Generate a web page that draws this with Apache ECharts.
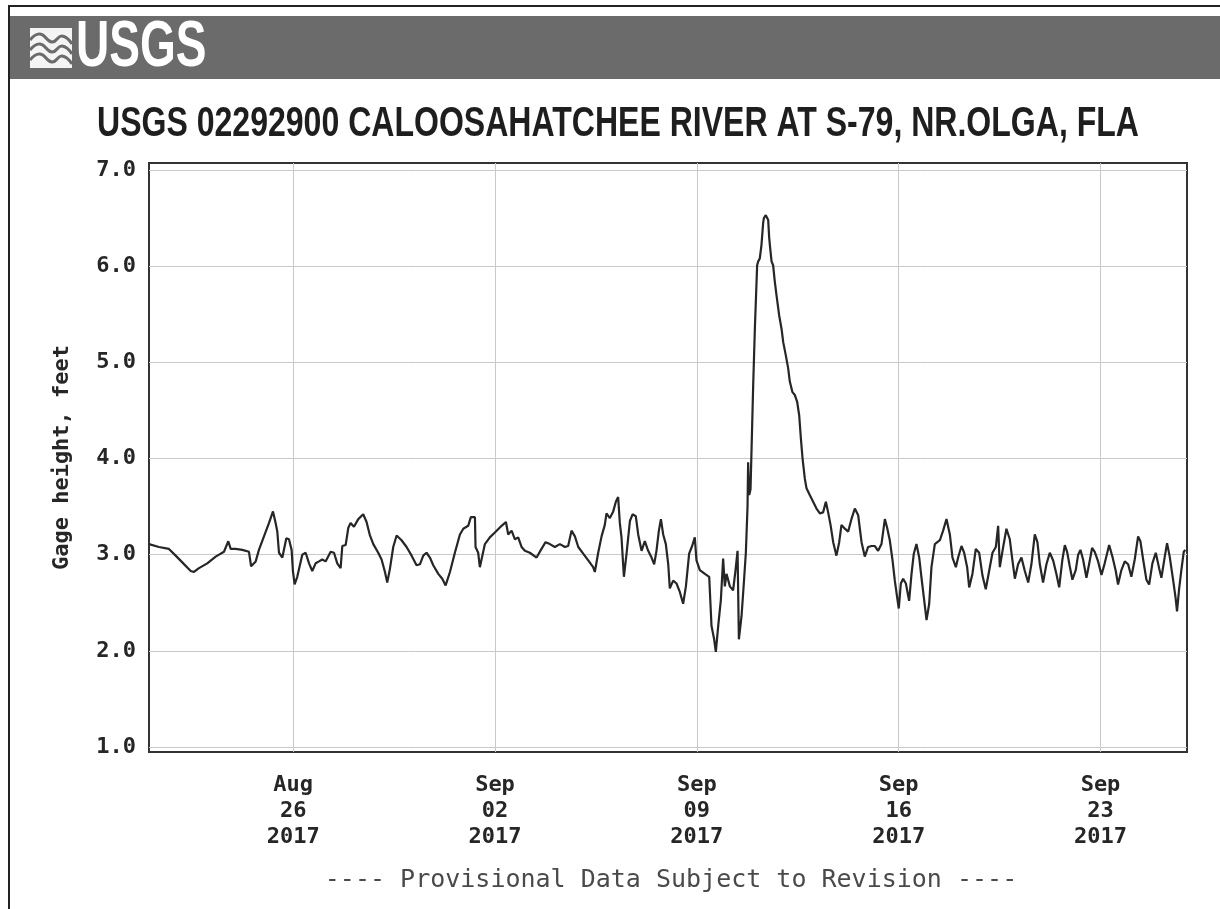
<!DOCTYPE html>
<html>
<head>
<meta charset="utf-8">
<script src="https://cdn.jsdelivr.net/npm/echarts@6/dist/echarts.min.js"></script>
<style>
  html, body { margin: 0; padding: 0; background: #fff; }
  #chart { width: 1220px; height: 909px; }
</style>
</head>
<body>
<div id="chart"></div>
<script>
const MONO = '"DejaVu Sans Mono", "Liberation Mono", monospace';
const INK = "#262626";
const GRIDC = "#c9c9c9";

// hours since 2017-08-21 00:00 and gage height (ft)
const hours = [
  0, 8.3, 16.6, 18, 22.2, 27.7, 34.7, 37.4, 41.6, 48.5,
  55.5, 62.4, 66, 68, 72.1, 77.7, 83.2, 85, 86.5, 88.8,
  91.5, 95.7, 99.9, 103.2, 105.4, 106.8, 108.2, 111, 112.3, 114.3,
  116.5, 118.7, 119.8, 121.2, 123.4, 125.4, 127.6, 130.4, 133.2, 135.9,
  138.7, 141.5, 144.2, 147, 151.2, 154, 156.7, 159.5, 160.9, 163.7,
  165.9, 167.8, 170.6,
  174.2, 178.3, 181.1, 183.9, 186.7, 190.8, 193.6, 196.4, 198.3, 200.5,
  203.3, 206.1, 210.2, 214.4, 218.6, 222.7, 225.5, 228.3, 231, 233.8,
  236.6, 240.8, 244.1, 246.9, 250.5, 254.6, 258.8, 261.6, 265.7, 267.9,
  271.3, 271.8, 274, 275.4, 276.8, 279.6, 283.7, 287.9, 293.5, 297.1,
  299, 301.8, 304.6, 307.3, 310.1, 312.9, 317, 322.6, 326.7, 330.1,
  333.7, 337.8,
  342, 346.2, 348.9, 351.7, 354.5, 357.3, 361.4, 365.6, 369.7, 371.1,
  373.9, 376.7, 379.4, 380.8, 383.6, 386.4, 388.6, 390.5, 391.9, 393.3,
  395.3, 397.5, 400.3, 402.5, 405.2, 407.2, 410, 412.7, 415.5, 418.3,
  420.5, 422.4, 424.4, 426.1, 428, 430.2, 432.2, 433.5, 436.3, 439.1,
  441.9, 444.6, 446.9, 449.6, 452.1, 454.3, 455.7, 458.5, 462.7, 466.3,
  468.2, 470.4, 471.8, 473.8, 476, 477.9, 479.3, 480.7, 483.5, 486.2,
  488.2, 489.9, 491, 493.2, 495.1, 496.8,
  498.2, 498.7, 499.6, 500.7, 502.3, 502.9, 504.3, 506.2, 507.1, 508.4,
  509.8, 511.2, 511.8, 513.4, 515.4, 516.2, 516.8, 518.2, 519.5, 520.9,
  522.3, 524.5, 526.5, 527.9, 530.1, 532, 533.4, 535.6, 537.6, 539.5,
  541.2, 542.6, 544, 545.9, 547.3, 550, 552.8, 555.6, 558.4, 561.1,
  563.4, 565.3, 567.3, 569.5, 572.2, 574.5, 576.4, 579.2, 582, 584.7,
  587.5, 590.3, 593.1, 595.8, 598.6,
  601.4, 604.2, 606.9, 609.7, 612.5, 614.4, 616.6, 618.9, 620.8, 622.7,
  624.1, 625.8, 627.7, 630, 632.7, 634.7, 636.6, 638.8, 641.1, 643,
  644.9, 647.2, 649.4, 651.3, 654.1, 658.3, 661, 663.8, 666.6, 668.8,
  671.6, 673.5, 676.3, 678.5, 681, 682.7, 685.4, 688.2, 691, 693.8,
  696.5, 699.3, 702.1, 704.9, 706.8, 708.2, 711, 713.7, 716.5, 718.7,
  720.7, 723.4, 726.2, 729, 731.8, 734.5, 737.3, 739.5, 741.5, 744.2,
  747, 749.8, 752.6, 755.3, 757.6,
  760.3, 762.3, 764.2, 766.4, 768.6, 771.4, 773.4, 775.3, 777.5, 780.3,
  782.5, 785, 787.2, 790, 792.8, 795.5, 799.2, 801.9, 804.7, 806.6,
  809.4, 812.2, 815, 817.7, 820.5, 823.3, 825.2, 827.5, 830.2, 832.5,
  835.2, 838, 840.8, 842.7, 845.5, 847.4, 849.6, 852.4, 854.5, 855.7,
  857.4, 859.3, 861.3, 862.6
];
const gage = [
  3.11, 3.08, 3.06, 3.05, 2.99, 2.92, 2.83, 2.82, 2.86, 2.91,
  2.98, 3.03, 3.14, 3.06, 3.06, 3.05, 3.03, 2.88, 2.86, 2.93,
  3.05, 3.19, 3.33, 3.45, 3.33, 3.24, 3.02, 2.97, 2.98, 3.17,
  3.16, 3.05, 2.83, 2.69, 2.77, 2.88, 3.00, 3.02, 2.91, 2.83,
  2.91, 2.93, 2.95, 2.93, 3.03, 3.02, 2.91, 2.86, 3.09, 3.10,
  3.28, 3.33, 3.29,
  3.37, 3.42, 3.34, 3.20, 3.11, 3.02, 2.95, 2.82, 2.71, 2.85,
  3.08, 3.20, 3.15, 3.08, 2.99, 2.89, 2.90, 2.99, 3.02, 2.97,
  2.89, 2.80, 2.75, 2.68, 2.82, 3.02, 3.21, 3.27, 3.30, 3.39,
  3.39, 3.08, 3.02, 2.87, 2.95, 3.11, 3.18, 3.23, 3.30, 3.34,
  3.21, 3.25, 3.16, 3.18, 3.08, 3.04, 3.02, 2.97, 3.06, 3.13,
  3.11, 3.08,
  3.11, 3.08, 3.09, 3.25, 3.19, 3.08, 3.01, 2.94, 2.87, 2.82,
  3.02, 3.19, 3.31, 3.43, 3.38, 3.45, 3.55, 3.60, 3.33, 3.18,
  2.77, 3.01, 3.35, 3.42, 3.40, 3.21, 3.04, 3.14, 3.04, 2.97,
  2.90, 3.04, 3.25, 3.37, 3.21, 3.11, 2.90, 2.65, 2.73, 2.70,
  2.61, 2.49, 2.67, 3.01, 3.09, 3.18, 2.94, 2.84, 2.80, 2.77,
  2.26, 2.12, 1.99, 2.26, 2.53, 2.96, 2.67, 2.80, 2.67, 2.63,
  2.84, 3.04, 2.12, 2.36, 2.70, 3.02,
  3.50, 3.96, 3.62, 3.68, 3.66, 4.76, 5.35, 6.01, 6.05, 6.08,
  6.22, 6.45, 6.50, 6.53, 6.48, 6.30, 6.22, 6.05, 6.01, 5.84,
  5.70, 5.49, 5.35, 5.21, 5.07, 4.94, 4.80, 4.69, 4.66, 4.59,
  4.45, 4.21, 4.00, 3.79, 3.69, 3.62, 3.55, 3.48, 3.43, 3.44,
  3.55, 3.44, 3.31, 3.13, 2.99, 3.13, 3.31, 3.27, 3.24, 3.37,
  3.48, 3.41, 3.13, 2.98, 3.08,
  3.09, 3.09, 3.04, 3.11, 3.37, 3.28, 3.15, 2.94, 2.73, 2.56,
  2.44, 2.70, 2.75, 2.70, 2.52, 2.80, 3.01, 3.11, 2.97, 2.76,
  2.56, 2.32, 2.49, 2.87, 3.11, 3.15, 3.25, 3.37, 3.21, 2.97,
  2.87, 2.97, 3.09, 3.02, 2.87, 2.66, 2.80, 3.06, 3.02, 2.78,
  2.64, 2.83, 3.02, 3.08, 3.30, 2.87, 3.08, 3.27, 3.16, 2.94,
  2.75, 2.90, 2.97, 2.83, 2.71, 2.90, 3.21, 3.13, 2.90, 2.71,
  2.90, 3.02, 2.94, 2.80, 2.66,
  2.95, 3.10, 3.03, 2.88, 2.74, 2.84, 3.00, 3.05, 2.95, 2.76,
  2.90, 3.07, 3.03, 2.93, 2.79, 2.91, 3.10, 2.98, 2.83, 2.69,
  2.84, 2.93, 2.90, 2.77, 2.95, 3.19, 3.14, 2.95, 2.74, 2.69,
  2.91, 3.02, 2.86, 2.76, 2.98, 3.12, 2.98, 2.74, 2.55, 2.41,
  2.64, 2.84, 3.03, 3.05
];

const yTicks = [1, 2, 3, 4, 5, 6, 7];
const xTicks = [120, 288, 456, 624, 792]; // Aug 26, Sep 02, 09, 16, 23 (hours)
const MONTHS = ["Jan", "Feb", "Mar", "Apr", "May", "Jun", "Jul", "Aug", "Sep", "Oct", "Nov", "Dec"];
const SPAN_HOURS = 864; // Aug 21 00:00 -> Sep 26 00:00

const pad = (n) => (n < 10 ? "0" + n : "" + n);
const dateLabel = (h) => {
  const d = new Date(2017, 7, 21 + Math.round(h / 24));
  return MONTHS[d.getMonth()] + "\n" + pad(d.getDate()) + "\n" + d.getFullYear();
};

const chart = echarts.init(document.getElementById("chart"), null, { renderer: "canvas" });
chart.setOption({
  backgroundColor: "#fff",
  animation: false,
  grid: {
    left: 149, right: 33, top: 163, bottom: 157,
    show: true, borderColor: "#333", borderWidth: 2, backgroundColor: "transparent",
  },
  xAxis: {
    type: "value",
    min: 0,
    max: SPAN_HOURS,
    axisLine: { show: false },
    axisTick: { show: false, customValues: xTicks },
    axisLabel: {
      customValues: xTicks,
      color: INK,
      fontFamily: MONO,
      fontWeight: "bold",
      fontSize: 22,
      lineHeight: 26,
      margin: 20,
      formatter: dateLabel,
    },
    splitLine: { show: true, lineStyle: { color: GRIDC, width: 1 } },
  },
  yAxis: {
    type: "value",
    min: 0.948,
    max: 7.073,
    name: "Gage height, feet",
    nameLocation: "middle",
    nameGap: 76,
    nameTextStyle: { color: INK, fontFamily: MONO, fontWeight: "bold", fontSize: 22 },
    axisLine: { show: false },
    axisTick: { show: false, customValues: yTicks },
    axisLabel: {
      customValues: yTicks,
      color: INK,
      fontFamily: MONO,
      fontWeight: "bold",
      fontSize: 22,
      margin: 13,
      formatter: (v) => v.toFixed(1),
    },
    splitLine: { show: true, lineStyle: { color: GRIDC, width: 1 } },
  },
  series: [
    {
      type: "line",
      data: hours.map((h, i) => [h, gage[i]]),
      showSymbol: false,
      lineStyle: { color: "#262626", width: 2.2 },
      silent: true,
    },
  ],
  graphic: [
    // page frame
    { type: "polyline", shape: { points: [[9, 909], [9, 6], [1220, 6]] }, style: { stroke: "#222", lineWidth: 2, fill: null } },
    // banner
    { type: "rect", shape: { x: 10, y: 16, width: 1210, height: 63 }, style: { fill: "#6b6b6b" } },
    { type: "rect", shape: { x: 30, y: 28, width: 42, height: 40 }, style: { fill: "#f4f4f4" } },
    { type: "polyline", shape: { points: [[30, 40], [40, 34], [52, 42], [62, 36], [72, 44]], smooth: 0.5 }, style: { stroke: "#6b6b6b", lineWidth: 3, fill: null } },
    { type: "polyline", shape: { points: [[30, 50], [40, 44], [52, 52], [62, 46], [72, 54]], smooth: 0.5 }, style: { stroke: "#6b6b6b", lineWidth: 3, fill: null } },
    { type: "polyline", shape: { points: [[30, 60], [40, 54], [52, 62], [62, 56], [72, 64]], smooth: 0.5 }, style: { stroke: "#6b6b6b", lineWidth: 3, fill: null } },
    {
      type: "text", x: 76, y: 48, scaleX: 0.72,
      style: { text: "USGS", fill: "#fff", font: 'bold 64px "Liberation Sans", Arial, sans-serif', textVerticalAlign: "middle", textAlign: "left" },
    },
    // title
    {
      type: "text", x: 618, y: 124, scaleX: 0.745,
      style: {
        text: "USGS 02292900 CALOOSAHATCHEE RIVER AT S-79, NR.OLGA, FLA",
        fill: "#1e1e1e", font: 'bold 43px "Liberation Sans", Arial, sans-serif',
        textAlign: "center", textVerticalAlign: "middle",
      },
    },
    // footer
    {
      type: "text", x: 671, y: 880,
      style: {
        text: "---- Provisional Data Subject to Revision ----",
        fill: "#4a4a4a", font: '25px ' + MONO, textAlign: "center", textVerticalAlign: "middle",
      },
    },
  ],
});
</script>
</body>
</html>
